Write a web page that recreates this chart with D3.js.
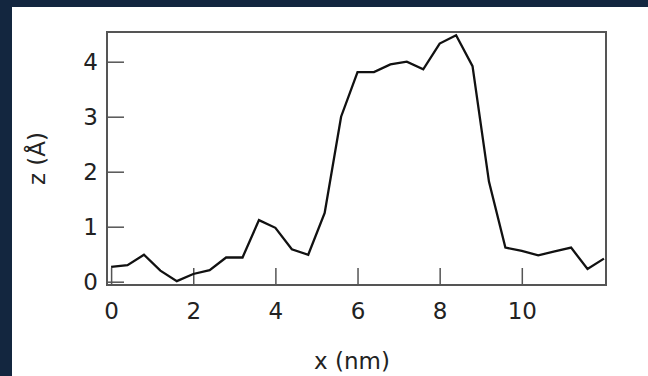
<!DOCTYPE html>
<html>
<head>
<meta charset="utf-8">
<script src="https://cdn.jsdelivr.net/npm/d3@7"></script>
<style>
  html, body { margin: 0; padding: 0; background: #13263f; }
  #chart { width: 648px; height: 376px; }
  text { font-family: "DejaVu Sans", Verdana, sans-serif; fill: #222; }
</style>
</head>
<body>
<div id="chart"></div>
<script>
// profile positions (nm) and heights (Å)
const xPositions = [0, 0.4, 0.8, 1.2, 1.6, 2.0, 2.4, 2.8, 3.2, 3.6, 4.0, 4.4, 4.8, 5.2, 5.6, 6.0,
    6.4, 6.8, 7.2, 7.6, 8.0, 8.4, 8.8, 9.2, 9.6, 10.0, 10.4, 10.8, 11.2, 11.6, 12.0];
const zValues = [0.27, 0.30, 0.49, 0.20, 0.01, 0.14, 0.21, 0.44, 0.44, 1.12, 0.98, 0.59, 0.49, 1.25, 3.00, 3.81,
    3.81, 3.95, 4.00, 3.86, 4.33, 4.48, 3.92, 1.82, 0.62, 0.56, 0.48, 0.55, 0.62, 0.23, 0.42];
const xTicks = [0, 2, 4, 6, 8, 10];
const yTicks = [0, 1, 2, 3, 4];
const xLabel = "x (nm)";
const yLabel = "z (Å)";

let width = 648, height = 376;
let margin = { top: 32, right: 42, bottom: 91, left: 107 };
let fontSize = 23;

let svg = d3.select("#chart").append("svg")
    .attr("width", width)
    .attr("height", height);

// white card on the navy page
svg.append("rect")
    .attr("x", 12).attr("y", 7)
    .attr("width", width - 12).attr("height", height - 7)
    .attr("fill", "#fff");

let x = d3.scaleLinear().domain([-0.1, 12.05]).range([margin.left, width - margin.right]);
let y = d3.scaleLinear().domain([-0.06, 4.54]).range([height - margin.bottom, margin.top]);

let frameColor = "#555";

// inward ticks, drawn with the axis generators then the domain path removed
svg.append("g")
    .attr("transform", "translate(0," + (height - margin.bottom) + ")")
    .call(d3.axisBottom(x).tickValues(xTicks).tickSizeInner(-17).tickSizeOuter(0).tickFormat(d3.format("d")))
    .call(g => g.select(".domain").remove())
    .call(g => g.selectAll("line").attr("stroke", frameColor).attr("stroke-width", 1.5))
    .call(g => g.selectAll("text").attr("font-size", fontSize).attr("dy", 0).attr("y", 34));

svg.append("g")
    .attr("transform", "translate(" + margin.left + ",0)")
    .call(d3.axisLeft(y).tickValues(yTicks).tickSizeInner(-17).tickSizeOuter(0).tickFormat(d3.format("d")))
    .call(g => g.select(".domain").remove())
    .call(g => g.selectAll("line").attr("stroke", frameColor).attr("stroke-width", 1.5))
    .call(g => g.selectAll("text").attr("font-size", fontSize).attr("x", -9).attr("dy", "0.36em"));

// plot frame
svg.append("rect")
    .attr("x", margin.left)
    .attr("y", margin.top)
    .attr("width", width - margin.right - margin.left)
    .attr("height", height - margin.bottom - margin.top)
    .attr("fill", "none")
    .attr("stroke", frameColor)
    .attr("stroke-width", 2);

let line = d3.line()
    .x((d, i) => x(xPositions[i]))
    .y(d => y(d));

svg.append("path")
    .datum(zValues)
    .attr("fill", "none")
    .attr("stroke", "#111")
    .attr("stroke-width", 2.3)
    .attr("d", line);

svg.append("text")
    .attr("x", 352)
    .attr("y", 369)
    .attr("text-anchor", "middle")
    .attr("font-size", fontSize)
    .text(xLabel);

svg.append("text")
    .attr("transform", "translate(45," + ((margin.top + height - margin.bottom) / 2) + ") rotate(-90)")
    .attr("text-anchor", "middle")
    .attr("font-size", fontSize)
    .text(yLabel);
</script>
</body>
</html>
